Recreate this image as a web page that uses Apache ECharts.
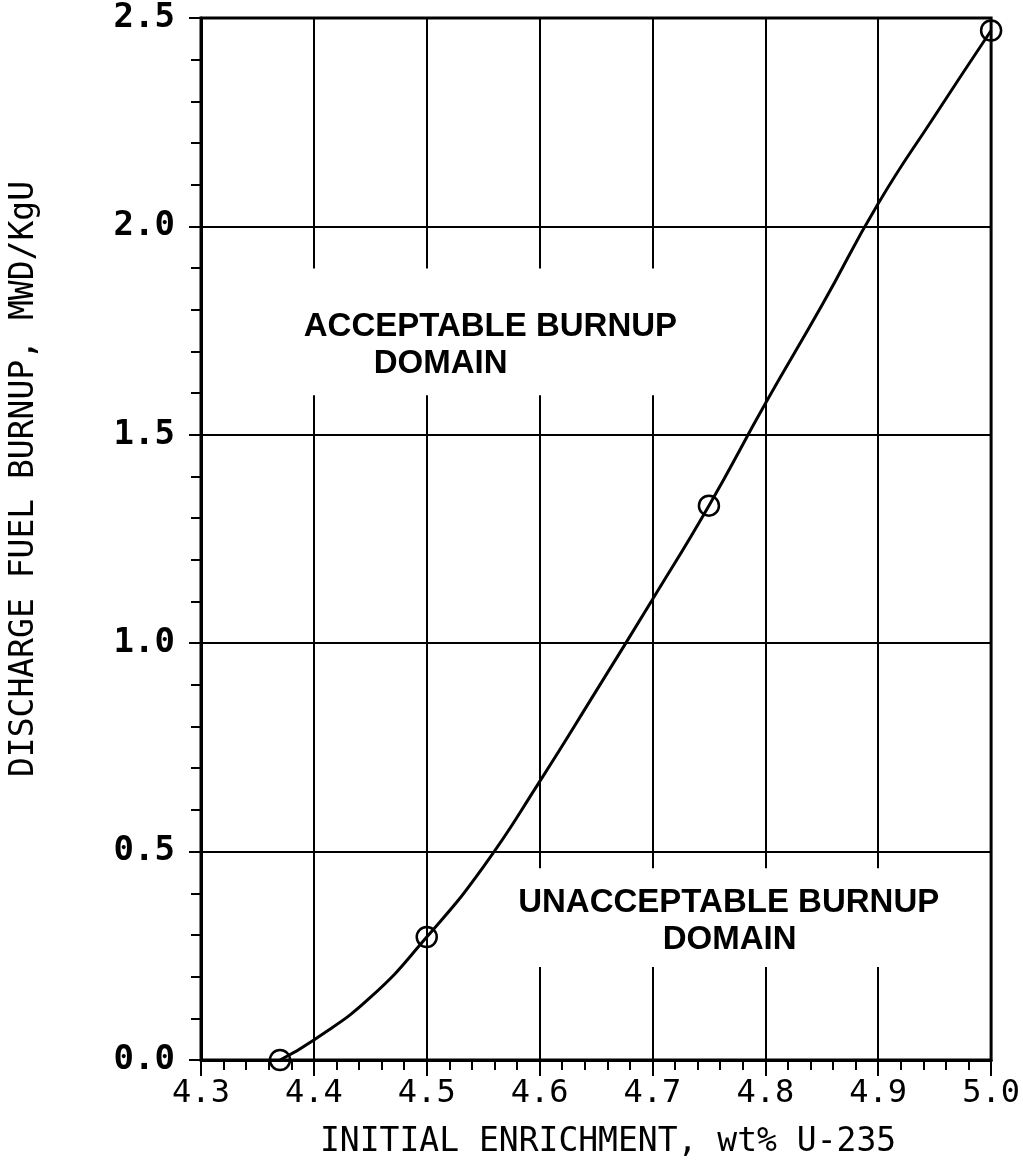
<!DOCTYPE html>
<html>
<head>
<meta charset="utf-8">
<script src="https://cdn.jsdelivr.net/npm/echarts@6/dist/echarts.min.js"></script>
<style>
html,body{margin:0;padding:0;background:#fff;}
#chart{width:1023px;height:1165px;}
</style>
</head>
<body>
<div id="chart"></div>
<script>
// Curve (enrichment, burnup)
const curveX = [4.37, 4.40, 4.45, 4.50, 4.55, 4.60, 4.65, 4.70, 4.75, 4.80, 4.85, 4.90, 4.95, 5.00];
const curveY = [0.00, 0.048, 0.15, 0.295, 0.463, 0.668, 0.885, 1.105, 1.33, 1.575, 1.81, 2.055, 2.265, 2.47];
// Circled calculation points
const pointX = [4.37, 4.50, 4.75, 5.00];
const pointY = [0.00, 0.295, 1.33, 2.47];
// Region annotations (text anchored at its left-middle)
const noteText = ['ACCEPTABLE BURNUP', 'DOMAIN', 'UNACCEPTABLE BURNUP', 'DOMAIN'];
const noteX = [4.391, 4.453, 4.581, 4.709];
const noteY = [1.758, 1.671, 0.3765, 0.288];
// Blank bands where the grid lines are broken around the annotations
const gapX0 = [4.38, 4.575];
const gapX1 = [4.74, 4.95];
const gapY0 = [1.595, 0.223];
const gapY1 = [1.899, 0.460];
// Axes
const xMin = 4.3, xMax = 5.0, xStep = 0.1;
const yMin = 0, yMax = 2.5, yStep = 0.5;
const xTitle = 'INITIAL ENRICHMENT, wt% U-235';
const yTitle = 'DISCHARGE FUEL BURNUP, MWD/KgU';

const mono = 'DejaVu Sans Mono';
const chart = echarts.init(document.getElementById('chart'));
chart.setOption({
  animation: false,
  backgroundColor: '#fff',
  grid: {left: 199, right: 30, top: 18, bottom: 105, show: true, borderColor: '#000', borderWidth: 3, backgroundColor: 'transparent'},
  xAxis: {
    type: 'value', min: xMin, max: xMax, interval: xStep,
    axisLine: {show: true, onZero: false, lineStyle: {color: '#000', width: 3}},
    axisTick: {show: true, length: 16, lineStyle: {color: '#000', width: 2}},
    minorTick: {show: true, splitNumber: 5, length: 10, lineStyle: {color: '#000', width: 2}},
    splitLine: {show: true, lineStyle: {color: '#000', width: 2}},
    axisLabel: {formatter: v => v.toFixed(1), fontFamily: mono, fontSize: 32, color: '#000', margin: 18},
    name: xTitle, nameLocation: 'middle', nameGap: 66,
    nameTextStyle: {fontFamily: mono, fontSize: 33, color: '#000', padding: [0, 0, 0, 24]}
  },
  yAxis: {
    type: 'value', min: yMin, max: yMax, interval: yStep,
    axisLine: {show: true, lineStyle: {color: '#000', width: 3}},
    axisTick: {show: true, length: 12, lineStyle: {color: '#000', width: 2}},
    minorTick: {show: true, splitNumber: 5, length: 10, lineStyle: {color: '#000', width: 2}},
    splitLine: {show: true, lineStyle: {color: '#000', width: 2}},
    axisLabel: {formatter: v => v.toFixed(1), fontFamily: mono, fontWeight: 'bold', fontSize: 34, color: '#000', margin: 26},
    name: yTitle, nameLocation: 'middle', nameGap: 160,
    nameTextStyle: {fontFamily: mono, fontSize: 33, color: '#000', padding: [0, 0, 0, 120]}
  },
  series: [
    {
      type: 'line', smooth: 0.5, showSymbol: false, silent: true,
      data: curveX.map((x, i) => [x, curveY[i]]),
      lineStyle: {color: '#000', width: 3}, z: 3
    },
    {
      type: 'scatter', symbol: 'circle', symbolSize: 20, silent: true,
      data: pointX.map((x, i) => [x, pointY[i]]),
      itemStyle: {color: 'rgba(0,0,0,0)', borderColor: '#000', borderWidth: 2.5, opacity: 1}, z: 4
    },
    {
      type: 'scatter', symbolSize: 0, silent: true, z: 2,
      itemStyle: {opacity: 1},
      data: noteX.map((x, i) => [x, noteY[i]]),
      label: {
        show: true, position: 'right', distance: 0, opacity: 1,
        formatter: p => noteText[p.dataIndex],
        fontFamily: 'Liberation Sans', fontWeight: 'bold', fontSize: 33,
        color: '#000'
      },
      markArea: {
        silent: true,
        itemStyle: {color: '#fff', opacity: 1, borderWidth: 0},
        label: {show: false},
        data: gapX0.map((x, i) => [{coord: [x, gapY0[i]]}, {coord: [gapX1[i], gapY1[i]]}])
      }
    }
  ]
});
</script>
</body>
</html>
